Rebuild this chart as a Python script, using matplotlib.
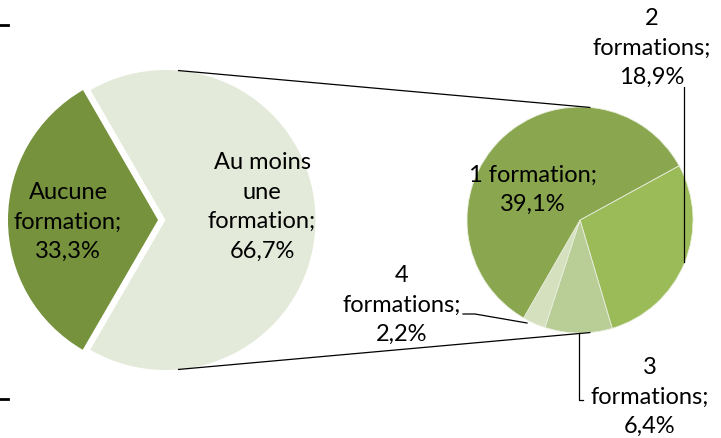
import numpy as np
import matplotlib.pyplot as plt

# left pie
main_labels = ['Aucune\nformation;\n33,3%', 'Au moins\nune\nformation;\n66,7%']
main_values = [33.3, 66.7]
main_colors = ['#76923C', '#E4EAD9']

# right pie (split of "Au moins une formation")
sub_labels = ['2\nformations;\n18,9%', '3\nformations;\n6,4%',
              '4\nformations;\n2,2%', '1 formation;\n39,1%']
sub_values = [18.9, 6.4, 2.2, 39.1]
sub_colors = ['#9BBB59', '#B9CD96', '#D4E0BE', '#8AA64E']

W, H = 721, 438
fig = plt.figure(figsize=(W / 100, H / 100), dpi=100)
ax = fig.add_axes([0, 0, 1, 1])

plt.rcParams['font.family'] = ['Lato', 'DejaVu Sans']
fs = 17
ls = 1.5

c1 = (158, H - 220); r1 = 150
c2 = (580, H - 220); r2 = 113
shift = 7.5

# explode is in data units here (radius != 1)
ax.pie(main_values, colors=main_colors, startangle=120, counterclock=True,
       center=c1, radius=r1, explode=[0, shift],
       wedgeprops=dict(linewidth=0))
ax.pie(sub_values, colors=sub_colors, startangle=28.7, counterclock=False,
       center=c2, radius=r2, wedgeprops=dict(linewidth=0.6, edgecolor='#E8EEDC'))

# connector lines between the two pies
a = np.deg2rad(85)
for s in (1, -1):
    x0 = c1[0] + shift + r1 * np.cos(a); y0 = c1[1] + s * r1 * np.sin(a)
    x1 = c2[0] + r2 * np.cos(a); y1 = c2[1] + s * r2 * np.sin(a)
    ax.plot([x0, x1], [y0, y1], color='black', lw=0.9)

# labels
ax.text(68, H - 222, main_labels[0], ha='center', va='center', fontsize=fs, linespacing=ls)
ax.text(262, H - 207, main_labels[1], ha='center', va='center', fontsize=fs, linespacing=ls)
ax.text(533, H - 190, sub_labels[3], ha='center', va='center', fontsize=fs, linespacing=ls)
ax.text(652, H - 48, sub_labels[0], ha='center', va='center', fontsize=fs, linespacing=ls)
ax.text(650, H - 397, sub_labels[1], ha='center', va='center', fontsize=fs, linespacing=ls)
ax.text(402, H - 305, sub_labels[2], ha='center', va='center', fontsize=fs, linespacing=ls)

# leader lines
ax.plot([684, 684], [H - 87, H - 262], color='black', lw=0.9)
ax.plot([579, 579, 583], [H - 333, H - 400, H - 400], color='black', lw=0.9)
ax.plot([463, 475, 527], [H - 314, H - 314, H - 323], color='black', lw=0.9)

# clipped marks at the left border
ax.plot([0, 8], [H - 25, H - 25], color='black', lw=2)
ax.plot([0, 8], [H - 399, H - 399], color='black', lw=2)

ax.set_xlim(0, W)
ax.set_ylim(0, H)
ax.set_aspect('auto')
ax.axis('off')
fig.savefig('out.png', dpi=100)
